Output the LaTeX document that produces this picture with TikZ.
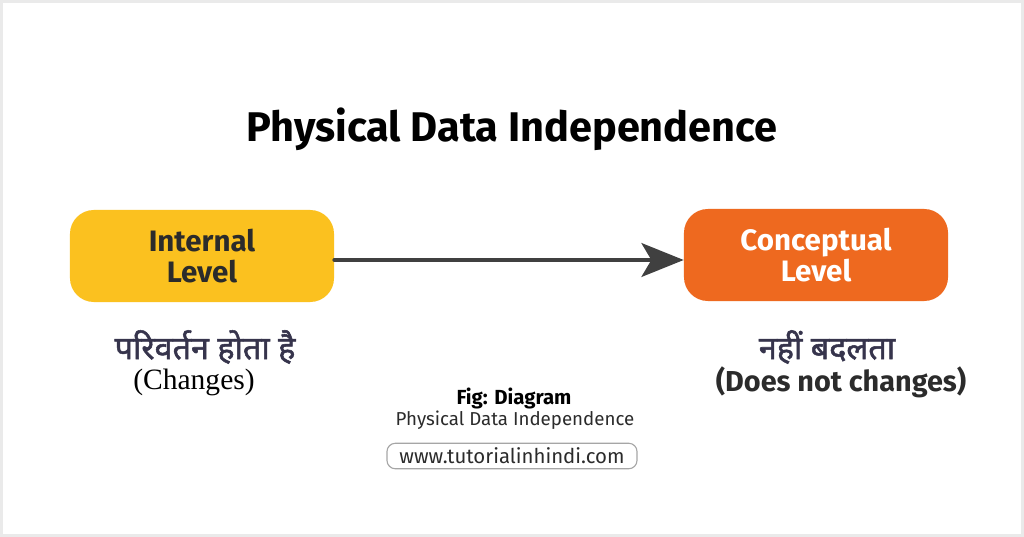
\documentclass[tikz,border=0pt]{standalone}
\usepackage{fontspec}
\setmainfont{Fira Sans}
\newfontfamily\hindifont[Script=Devanagari,FakeBold=1.6]{Noto Sans}
\newfontfamily\serifpart{Liberation Serif}
\usetikzlibrary{arrows.meta}
\usepackage{xcolor}
\definecolor{boxyellow}{HTML}{FBC11F}
\definecolor{boxorange}{HTML}{EE691F}
\definecolor{inkdark}{HTML}{2B2B2B}
\definecolor{hindiink}{HTML}{36344C}
\definecolor{framegray}{HTML}{EAEAEA}

\begin{document}
\begin{tikzpicture}[x=0.025cm,y=-0.025cm,line cap=round,
  levelbox/.style={rounded corners=17pt,minimum width=6.6cm,minimum height=2.3cm,
    align=center,font=\fontsize{21}{21.5}\selectfont\bfseries}]
\useasboundingbox (0,0) rectangle (1024,537);
\fill[white] (0,0) rectangle (1024,537);
\draw[framegray,line width=2.2pt] (1.5,1.5) rectangle (1022.5,535.5);
\node[font=\fontsize{29.5}{29.5}\selectfont\bfseries,text=black] (title) at (512,129) {Physical Data Independence};
\node[levelbox,fill=boxyellow,text=inkdark] (internal) at (202,256) {Internal\\Level};
\node[levelbox,fill=boxorange,text=white] (conceptual) at (816,255) {Conceptual\\Level};
\draw[-{Stealth[length=30pt,width=24pt,inset=7pt]},line width=2.8pt,inkdark!90] (internal.east |- 0,260) -- (conceptual.west |- 0,260);
% notes under the boxes
\node[inner sep=1pt,font=\hindifont\fontsize{23}{23}\selectfont,text=hindiink] (changes hi) at (205,347) {परिवर्तन होता है};
\node[inner sep=1pt,font=\serifpart\fontsize{21}{21}\selectfont,text=black] (changes en) at (194,382) {(Changes)};
\node[inner sep=1pt,font=\hindifont\fontsize{23}{23}\selectfont,text=hindiink] (same hi) at (827,347) {नहीं बदलता};
\node[inner sep=1pt,font=\fontsize{20.5}{20.5}\selectfont\bfseries,text=inkdark] (same en) at (841,382) {(Does not changes)};
% caption
\node[font=\fontsize{14.5}{14.5}\selectfont\bfseries,text=black] (fig) at (514,398) {Fig: Diagram};
\node[font=\fontsize{13.3}{13.3}\selectfont,text=inkdark] (caption) at (515,420) {Physical Data Independence};
\node[draw=gray!70,rounded corners=6pt,line width=0.8pt,minimum width=6.25cm,minimum height=0.62cm,
  font=\fontsize{14.5}{14.5}\selectfont,text=inkdark] (site) at (512,456) {www.tutorialinhindi.com};
\end{tikzpicture}
\end{document}
